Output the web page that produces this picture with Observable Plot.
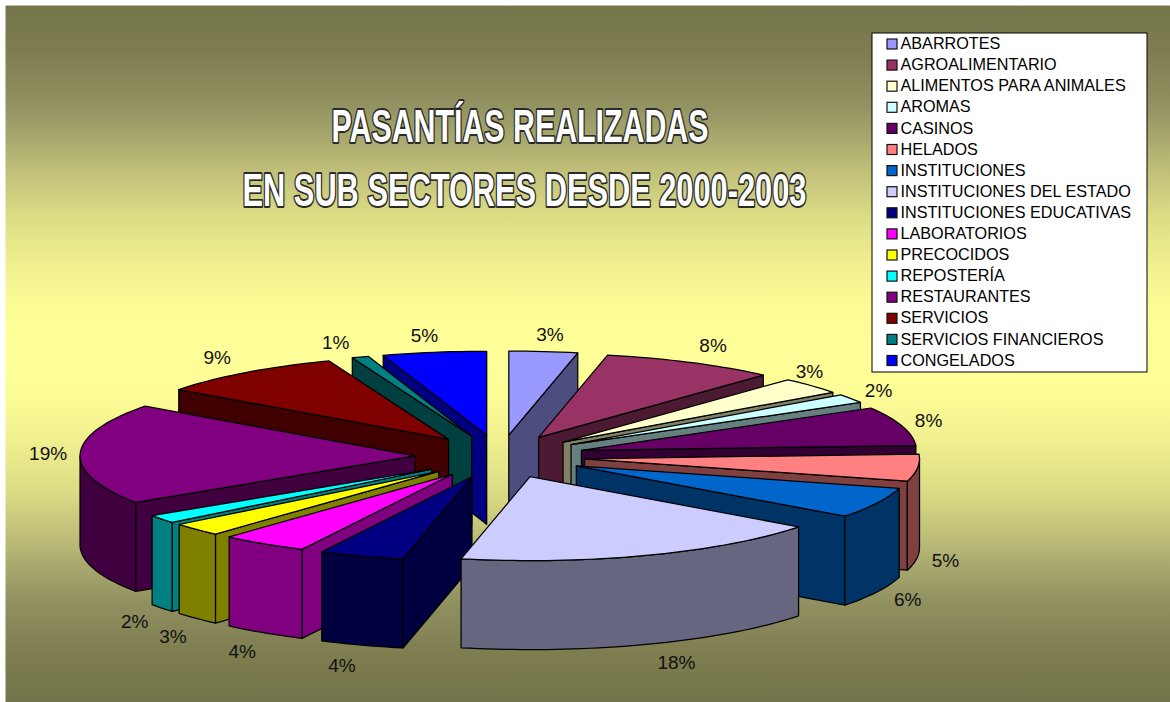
<!DOCTYPE html>
<html lang="es">
<head>
<meta charset="utf-8">
<style>html,body{margin:0;padding:0;background:#fff}svg{display:block}</style>
<script src="https://cdn.jsdelivr.net/npm/d3@7"></script>
<script src="https://cdn.jsdelivr.net/npm/@observablehq/plot@0.6"></script>
</head>
<body>
<div id="chart"></div>
<script>
const sectors = ["ABARROTES","AGROALIMENTARIO","ALIMENTOS PARA ANIMALES","AROMAS","CASINOS","HELADOS","INSTITUCIONES","INSTITUCIONES DEL ESTADO","INSTITUCIONES EDUCATIVAS","LABORATORIOS","PRECOCIDOS","REPOSTERÍA","RESTAURANTES","SERVICIOS","SERVICIOS FINANCIEROS","CONGELADOS"];
const shares = [3.3,8.4,3.2,1.7,7.5,5.2,5.9,18.1,4.1,4.2,2.5,1.6,19.4,9.1,0.8,5.0];
const colors = ["#9999FF","#993366","#FFFFCC","#CCFFFF","#660066","#FF8080","#0066CC","#CCCCFF","#000080","#FF00FF","#FFFF00","#00FFFF","#800080","#800000","#008080","#0000FF"];
const titleLines = ["PASANTÍAS REALIZADAS","EN SUB SECTORES DESDE 2000-2003"];

const W = 1170, H = 702;
const geo = {cx:499.5, cy:456, ex:85, ey:21.5, rx:335, ry:84, depth:89};
const rad = d => d * Math.PI / 180;
const total = d3.sum(shares);

let cum = 0;
const slices = sectors.map((name,i) => {
  const a0 = cum / total * 360; cum += shares[i];
  const a1 = cum / total * 360, mid = (a0 + a1) / 2;
  const tx = geo.cx + geo.ex * Math.sin(rad(mid)), ty = geo.cy - geo.ey * Math.cos(rad(mid));
  const at = a => [tx + geo.rx * Math.sin(rad(a)), ty - geo.ry * Math.cos(rad(a))];
  const arc = (s,e) => { const n = Math.max(2, Math.ceil((e-s)/1.5)); return d3.range(n+1).map(k => at(s+(e-s)*k/n)); };
  const c = d3.rgb(colors[i]);
  return {name,i,a0,a1,mid,tx,ty,at,arc,color:colors[i],side:d3.rgb(c.r/2,c.g/2,c.b/2).formatHex()};
});

const rows = [];
const addPoly = (id, pts, fill) => { [...pts, pts[0]].forEach(p => rows.push({id, x:p[0], y:p[1], fill})); };
const drop = p => [p[0], p[1] + geo.depth];
const lowest = s => d3.max([s.ty, ...s.arc(s.a0,s.a1).map(p=>p[1])]);
slices.slice().sort((A,B) => lowest(A) - lowest(B)).forEach(s => {
  const tip = [s.tx, s.ty];
  if (Math.sin(rad(s.a0)) < -1e-6) addPoly(`w0${s.i}`, [tip, s.at(s.a0), drop(s.at(s.a0)), drop(tip)], s.side);
  if (Math.sin(rad(s.a1)) > 1e-6) addPoly(`w1${s.i}`, [tip, s.at(s.a1), drop(s.at(s.a1)), drop(tip)], s.side);
  const fs = Math.max(s.a0, 90), fe = Math.min(s.a1, 270);
  if (fe > fs) { const a = s.arc(fs, fe); addPoly(`o${s.i}`, [...a, ...a.slice().reverse().map(drop)], s.side); }
  addPoly(`t${s.i}`, [tip, ...s.arc(s.a0, s.a1)], s.color);
});

// Small per-label nudges around the radial placement, as label placement in the original differs slightly.
const labelNudge = [[-5,0],[0,-2],[-30,-4],[-2,0],[-5,-2],[-4,0],[0,-3],[8,-2],[0,0],[3,1],[4,3],[2,0],[0,-2],[-3,-2],[-5,1],[4,0]];
const labels = slices.map(s => {
  const sn = Math.sin(rad(s.mid)), cs = Math.cos(rad(s.mid));
  const rim = s.at(s.mid);
  return {
    text: Math.round(shares[s.i]) + "%",
    x: rim[0] + Math.sign(sn) * 32 * Math.pow(Math.abs(sn), 0.45) + labelNudge[s.i][0],
    y: rim[1] + (cs < 0 ? geo.depth : 0) - 19 * cs + 2.5 + labelNudge[s.i][1]
  };
});

const legendBox = {x1:872, x2:1147, y1:33, y2:372};
const legendRows = sectors.map((name,i) => ({name, color:colors[i], y: 44 + i * 21.1}));

// The title is drawn horizontally condensed, as in the picture.
const titleFont = "bold 47px 'Liberation Sans', Arial, sans-serif";
const titleWidths = [377, 564];
const ctx2d = document.createElement("canvas").getContext("2d");
ctx2d.font = titleFont;
const condense = (index, scales, values, dims, ctx, next) => {
  const g = next(index, scales, values, dims, ctx);
  d3.select(g).selectAll("text").each(function(_, k) {
    const t = d3.select(this);
    const sx = titleWidths[k] / ctx2d.measureText(titleLines[k]).width;
    t.attr("transform", `${t.attr("transform") || ""} scale(${sx},1)`).attr("vector-effect", "non-scaling-stroke");
  });
  return g;
};

const svg = Plot.plot({
  width:W, height:H, margin:0,
  x:{domain:[0,W], axis:null}, y:{domain:[H,0], axis:null},
  color:{type:"identity"},
  style:{background:"#fff", fontFamily:"'Liberation Sans', Arial, sans-serif"},
  marks:[
    Plot.frame({fill:"url(#bg)", stroke:"none", insetLeft:5, insetTop:5}),
    Plot.line(rows, {x:"x", y:"y", z:"id", fill:"fill", stroke:"#000", strokeWidth:1.25, strokeLinejoin:"round", curve:"linear"}),
    Plot.text(labels, {x:"x", y:"y", text:"text", fill:"#111", fontSize:19, textAnchor:"middle", lineAnchor:"middle"}),
    Plot.text(titleLines, {x:[519.5,524], y:[126,190], text:d=>d, fill:"#fff", stroke:"#2a2a2a", strokeWidth:3.2, fontSize:47, fontWeight:"bold", textAnchor:"middle", lineAnchor:"middle", render:condense}),
    Plot.rect([legendBox], {x1:"x1", x2:"x2", y1:"y1", y2:"y2", fill:"#fff", stroke:"#000", strokeWidth:1}),
    Plot.rect(legendRows, {x1:()=>887, x2:()=>897, y1:d=>d.y-5, y2:d=>d.y+5, fill:"color", stroke:"#111", strokeWidth:1.2}),
    Plot.text(legendRows, {x:()=>900, y:d=>d.y-0.5, text:"name", fill:"#000", fontSize:16.2, textAnchor:"start", lineAnchor:"middle"})
  ]
});

const defs = d3.select(svg).insert("defs", ":first-child");
const grad = defs.append("linearGradient").attr("id","bg").attr("gradientUnits","userSpaceOnUse").attr("x1",0).attr("y1",0).attr("x2",0).attr("y2",H);
const bgStops = [[5,"#75754b"],[50,"#7d7d50"],[100,"#8f8f60"],[135,"#a6a66d"],[165,"#bcbc78"],[215,"#dcdc85"],[265,"#f0f08f"],[310,"#fdfd96"],[350,"#ffff99"]];
[...bgStops, ...bgStops.slice(0,-1).reverse().map(([y,c]) => [702 - y + 2, c])].forEach(([y,c]) => grad.append("stop").attr("offset", y/H).attr("stop-color", c));
document.getElementById("chart").append(svg);
</script>
</body>
</html>
